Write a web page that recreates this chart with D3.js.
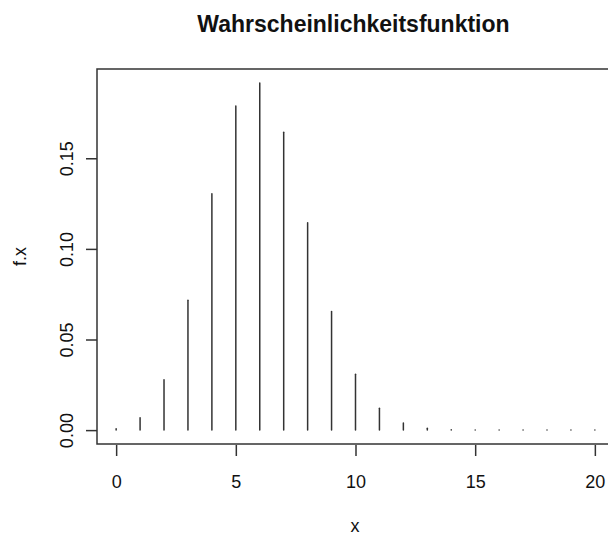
<!DOCTYPE html>
<html>
<head>
<meta charset="utf-8">
<script src="https://cdn.jsdelivr.net/npm/d3@7"></script>
<style>
  html, body { margin: 0; padding: 0; background: #fff; }
  svg { display: block; }
  text { font-family: "Liberation Sans", Arial, sans-serif; fill: #111; }
</style>
</head>
<body>
<svg id="chart" width="608" height="535"></svg>
<script>
// Probability mass function values f(x) for x = 0..20
const xValues = d3.range(0, 21);
const fx = [0.0008, 0.0068, 0.0278, 0.0716, 0.1304, 0.1789, 0.1916, 0.1643,
            0.1144, 0.0654, 0.0308, 0.0120, 0.0039, 0.0010, 0.0002, 0.00004,
            0.000005, 0, 0, 0, 0];
const xTicks = [0, 5, 10, 15, 20];
const yTicks = [0.00, 0.05, 0.10, 0.15];
const titleText = "Wahrscheinlichkeitsfunktion";
const xLabel = "x";
const yLabel = "f.x";

const svg = d3.select("#chart");
const plotLeft = 97, plotRight = 614, plotTop = 69, plotBottom = 444;

// axis ranges padded by 4% on each side
const xMin = d3.min(xValues), xMax = d3.max(xValues);
const xPad = (xMax - xMin) * 0.04;
const yMax = d3.max(fx), yPad = yMax * 0.04;

const x = d3.scaleLinear().domain([xMin - xPad, xMax + xPad]).range([plotLeft, plotRight]);
const y = d3.scaleLinear().domain([-yPad, yMax + yPad]).range([plotBottom, plotTop]);

const ink = "#333";

// spikes
svg.append("g")
  .selectAll("line")
  .data(xValues)
  .join("line")
  .attr("x1", d => x(d)).attr("x2", d => x(d))
  .attr("y1", y(0)).attr("y2", (d, i) => y(fx[i]))
  .attr("stroke", ink)
  .attr("stroke-width", 1.5)
  .attr("stroke-linecap", "round");

// plot frame
svg.append("rect")
  .attr("x", plotLeft).attr("y", plotTop)
  .attr("width", plotRight - plotLeft).attr("height", plotBottom - plotTop)
  .attr("fill", "none").attr("stroke", ink).attr("stroke-width", 1.5);

// x axis
const xAxis = d3.axisBottom(x).tickValues(xTicks).tickSize(11).tickPadding(19)
  .tickFormat(d3.format("d"));
const gx = svg.append("g").attr("transform", `translate(0,${plotBottom + 1})`).call(xAxis);
gx.select(".domain").remove();
gx.selectAll(".tick line").attr("stroke", ink).attr("stroke-width", 1.5);
gx.selectAll(".tick text")
  .attr("font-size", 18).attr("fill", "#111")
  .attr("font-family", "'Liberation Sans', Arial, sans-serif");

// y axis with rotated labels
const yAxis = d3.axisLeft(y).tickValues(yTicks).tickSize(11).tickFormat(d3.format(".2f"));
const gy = svg.append("g").attr("transform", `translate(${plotLeft},0)`).call(yAxis);
gy.select(".domain").remove();
gy.selectAll(".tick line").attr("stroke", ink).attr("stroke-width", 1.5);
gy.selectAll(".tick text")
  .attr("font-size", 18).attr("fill", "#111")
  .attr("font-family", "'Liberation Sans', Arial, sans-serif")
  .attr("x", null).attr("dy", null)
  .attr("text-anchor", "middle")
  .attr("transform", `translate(${73 - plotLeft},0) rotate(-90)`);

// title
svg.append("text")
  .attr("x", (plotLeft + plotRight) / 2 - 2).attr("y", 32)
  .attr("text-anchor", "middle")
  .attr("font-size", 23).attr("font-weight", "bold")
  .text(titleText);

// axis titles
svg.append("text")
  .attr("x", 355).attr("y", 532)
  .attr("text-anchor", "middle").attr("font-size", 18)
  .text(xLabel);

svg.append("text")
  .attr("transform", `translate(26,${(plotTop + plotBottom) / 2}) rotate(-90)`)
  .attr("text-anchor", "middle").attr("font-size", 18)
  .text(yLabel);
</script>
</body>
</html>
